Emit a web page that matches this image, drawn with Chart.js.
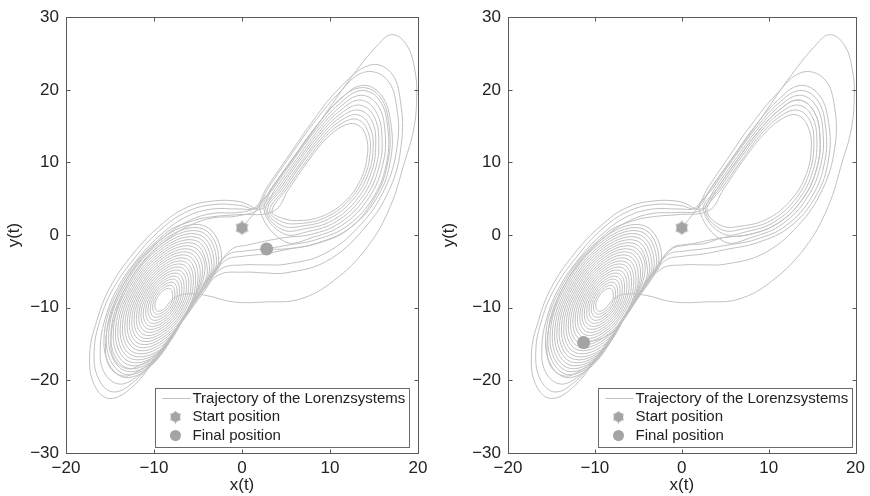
<!DOCTYPE html>
<html>
<head>
<meta charset="utf-8">
<script src="https://cdn.jsdelivr.net/npm/chart.js@4.4.1/dist/chart.umd.min.js"></script>
<style>
  html, body { margin: 0; padding: 0; background: #fff; }
  #wrap { display: flex; width: 870px; height: 496px; }
  .panel { width: 435px; height: 496px; }
</style>
</head>
<body>
<div id="wrap">
  <div class="panel"><canvas id="chartA" width="435" height="496"></canvas></div>
  <div class="panel"><canvas id="chartB" width="435" height="496"></canvas></div>
</div>
<script>
// ---- datos (x, y) ----
const xTicks = [-20, -10, 0, 10, 20];
const yTicks = [-30, -20, -10, 0, 10, 20, 30];
const legendLabels = ['Trajectory of the Lorenzsystems', 'Start position', 'Final position'];

const startPosition = [0, 1];
const finalPositionA = [2.8, -1.9];
const finalPositionB = [-11.3, -14.8];

// primer lazo grande (sale del inicio, rodea el ala derecha y entra al centro izquierdo)
const firstLoop = [
  [0,1],[1.1,2.6],[2.2,4.4],[3.6,6.8],[5.1,9.3],[7,12.5],[8.9,15.7],[10.8,19],[12.65,22.1],
  [15.3,26],[17,27.6],[18.7,26.2],[19.66,22.6],[19.85,18.9],[19.5,14.5],[18.5,10.2],[16.8,3.8],
  [14.2,-1.7],[10.4,-6.3],[6.6,-8.8],[2.8,-9.2],[-1,-9.2],[-4.1,-8.3],[-6.4,-8.1],[-7.6,-8.6]
];

// espiral del ala izquierda (de adentro hacia afuera, el lado derecho pegado al borde)
const leftSpiral = [
  [-8.20,-9.22],[-8.91,-10.22],[-9.61,-10.45],[-9.90,-9.77],[-9.60,-8.58],[-8.89,-7.58],[-8.19,-7.35],[-7.90,-8.04],
  [-8.02,-9.31],[-8.92,-10.57],[-9.80,-10.86],[-10.16,-9.99],[-9.78,-8.49],[-8.88,-7.23],[-8.00,-6.94],[-7.64,-7.81],
  [-7.83,-9.39],[-8.92,-10.92],[-9.99,-11.27],[-10.42,-10.22],[-9.97,-8.41],[-8.88,-6.88],[-7.81,-6.53],[-7.38,-7.58],
  [-7.65,-9.48],[-8.92,-11.27],[-10.18,-11.68],[-10.69,-10.45],[-10.15,-8.32],[-8.88,-6.53],[-7.62,-6.12],[-7.11,-7.35],
  [-7.47,-9.56],[-8.93,-11.62],[-10.37,-12.09],[-10.95,-10.68],[-10.34,-8.24],[-8.87,-6.18],[-7.43,-5.72],[-6.85,-7.12],
  [-7.28,-9.65],[-8.93,-11.97],[-10.56,-12.50],[-11.22,-10.91],[-10.52,-8.15],[-8.87,-5.83],[-7.24,-5.31],[-6.59,-6.89],
  [-7.10,-9.73],[-8.94,-12.32],[-10.75,-12.90],[-11.48,-11.14],[-10.70,-8.07],[-8.87,-5.48],[-7.05,-4.90],[-6.32,-6.66],
  [-6.91,-9.82],[-8.94,-12.67],[-10.94,-13.31],[-11.74,-11.37],[-10.89,-7.98],[-8.86,-5.13],[-6.86,-4.49],[-6.06,-6.43],
  [-6.73,-9.90],[-8.94,-13.02],[-11.13,-13.72],[-12.01,-11.60],[-11.07,-7.90],[-8.86,-4.78],[-6.67,-4.08],[-5.79,-6.20],
  [-6.54,-9.99],[-8.95,-13.37],[-11.32,-14.13],[-12.27,-11.83],[-11.26,-7.81],[-8.85,-4.43],[-6.49,-3.67],[-5.53,-5.97],
  [-6.36,-10.07],[-8.95,-13.72],[-11.50,-14.54],[-12.53,-12.06],[-11.44,-7.73],[-8.85,-4.08],[-6.30,-3.26],[-5.27,-5.74],
  [-6.17,-10.16],[-8.95,-14.07],[-11.69,-14.95],[-12.80,-12.29],[-11.63,-7.64],[-8.85,-3.73],[-6.11,-2.85],[-5.00,-5.52],
  [-6.11,-10.24],[-8.96,-14.42],[-11.88,-15.36],[-13.06,-12.51],[-11.81,-7.56],[-8.84,-3.38],[-5.92,-2.44],[-4.74,-5.29],
  [-6.16,-10.33],[-8.96,-14.77],[-12.07,-15.77],[-13.32,-12.74],[-12.00,-7.47],[-8.84,-3.03],[-5.73,-2.03],[-4.48,-5.06],
  [-6.22,-10.41],[-8.96,-15.12],[-12.26,-16.18],[-13.59,-12.97],[-12.18,-7.39],[-8.84,-2.68],[-5.54,-1.62],[-4.21,-4.83],
  [-6.25,-10.50],[-8.95,-15.47],[-12.45,-16.59],[-13.85,-13.20],[-12.37,-7.30],[-8.83,-2.33],[-5.35,-1.21],[-3.95,-4.60],[-4.70,-7.55],
  [-6.29,-10.58],[-9.13,-15.82],[-12.64,-17.00],[-14.12,-13.43],[-12.55,-7.22],[-8.83,-1.99],[-5.16,-0.80],[-3.69,-4.37],[-4.65,-7.48],
  [-6.34,-10.67],[-9.31,-16.17],[-12.83,-17.41],[-14.38,-13.66],[-12.73,-7.13],[-8.83,-1.64],[-4.97,-0.39],[-3.42,-4.14],[-4.60,-7.41],
  [-6.38,-10.75],[-9.50,-16.52],[-13.02,-17.82],[-14.64,-13.89],[-12.92,-7.05],[-8.82,-1.29],[-4.78,0.02],[-3.16,-3.91],[-4.55,-7.33],
  [-6.43,-10.84],[-9.69,-16.86],[-13.21,-18.23],[-14.91,-14.12],[-13.10,-6.96],[-8.82,-0.94],[-4.60,0.43],[-2.89,-3.68],[-4.50,-7.26],
  [-6.48,-10.92],[-9.88,-17.21],[-13.39,-18.64],[-15.17,-14.35],[-13.29,-6.88],[-8.81,-0.59],[-4.41,0.84],[-2.63,-3.45],[-4.47,-7.19],
  [-6.53,-11.01],[-10.07,-17.56],[-13.58,-19.05],[-15.43,-14.58],[-13.47,-6.79],[-8.81,-0.24],[-4.22,1.25],[-2.32,-3.23],[-4.43,-7.12],
  [-6.57,-11.09],[-10.25,-17.91],[-13.77,-19.46],[-15.70,-14.80],[-13.66,-6.71],[-8.81,0.11],[-5.5,2.0],[-2.8,2.6],[-0.6,2.8]
];

// vueltas del ala derecha (de la interior a la exterior)
const rightLoops = [
  [[3.6,3.3],[5.3,6.3],[7.4,10],[9.6,13.3],[11.6,15.1],[13.1,15.2],[14.1,13.6],[14.2,10.6],[13.3,7.2],[11.4,4.3],[8.9,2.5],[6.3,2.0],[4.4,2.4]],
  [[3.4,3.35],[5.05,6.3],[7.2,10.05],[9.45,13.5],[11.5,15.5],[13.15,15.9],[14.3,14.3],[14.55,11.2],[13.75,7.6],[11.9,4.45],[9.35,2.35],[6.6,1.6],[4.5,1.85]],
  [[3.15,3.4],[4.8,6.3],[6.95,10.1],[9.3,13.7],[11.45,15.95],[13.2,16.55],[14.5,15.0],[14.9,11.8],[14.2,8.0],[12.4,4.6],[9.8,2.2],[6.9,1.25],[4.55,1.3]],
  [[2.9,3.45],[4.55,6.35],[6.75,10.1],[9.1,13.85],[11.4,16.4],[13.3,17.2],[14.75,15.75],[15.2,12.45],[14.65,8.45],[12.95,4.75],[10.25,2.0],[7.25,0.9],[4.6,0.75]],
  [[2.7,3.5],[4.3,6.35],[6.5,10.15],[8.95,14.05],[11.3,16.8],[13.35,17.9],[14.95,16.45],[15.55,13.05],[15.1,8.85],[13.45,4.9],[10.7,1.85],[7.55,0.5],[4.7,0.2]],
  [[2.5,3.55],[4.05,6.35],[6.3,10.2],[8.8,14.25],[11.25,17.25],[13.4,18.6],[15.15,17.15],[15.9,13.65],[15.55,9.25],[13.95,5.05],[11.15,1.7],[7.85,0.1],[4.75,-0.35]],
  [[2.25,3.6],[3.8,6.4],[6.05,10.2],[8.6,14.4],[11.15,17.65],[13.5,19.25],[15.4,17.9],[16.25,14.3],[16.0,9.7],[14.45,5.2],[11.6,1.55],[8.2,-0.25],[4.85,-0.9]],
  [[2.0,3.65],[3.55,6.4],[5.8,10.25],[8.45,14.6],[11.05,18.05],[13.55,19.9],[15.6,18.6],[16.55,14.9],[16.45,10.1],[15.0,5.35],[12.05,1.35],[8.5,-0.6],[4.9,-1.45]],
  [[1.8,3.7],[3.3,6.4],[5.6,10.3],[8.3,14.8],[11,18.5],[13.6,20.6],[15.8,19.3],[16.9,15.5],[16.9,10.5],[15.5,5.5],[12.5,1.2],[8.8,-1.0],[5,-2.0]],
  [[1.6,3.8],[3.0,6.5],[5.2,10.4],[8,15.2],[10.9,19.4],[13.8,22.4],[16.4,21.5],[17.6,17.5],[17.6,12],[16.2,6.3],[13.3,1.2],[9.3,-2.6],[5,-4]],
  [[1.5,3.8],[2.8,6.5],[5.0,10.4],[7.8,15.3],[10.9,20],[14.5,23.4],[16.9,22.4],[18,18.5],[18.1,12.5],[16.8,6.4],[13.8,0.8],[9.6,-3.6],[5,-5.2]]
];

// vueltas exteriores del ala izquierda (entran por el borde, salen por arriba)
const leftLoops = [
  [[0.5,-1.4],[-1.1,-1.9],[-3.0,-4.6],[-5.3,-8.8],[-7.6,-13],[-9.8,-16.8],[-12.2,-20.6],[-15,-22.5],[-16.8,-20.6],[-17.3,-16.3],[-16.5,-11.8],[-15,-7.2],[-12.4,-2.6],[-9.3,1.3],[-6.3,3.8],[-3.2,4.7],[-0.2,4.6]],
  [[2.5,-1.9],[0.3,-2.2],[-1.6,-2.7],[-3.4,-5.6],[-5.5,-9.4],[-7.7,-13.4],[-9.9,-17],[-12.1,-20],[-14.6,-21.6],[-16.3,-19.8],[-16.8,-16],[-16.1,-11.6],[-14.6,-7.3],[-12.1,-3],[-9.2,0.8],[-6.3,3.2],[-3.3,4.2],[-0.3,4.1]],
  [[2.5,-2.6],[0.2,-2.9],[-1.9,-3.5],[-3.8,-6.5],[-5.9,-10.1],[-7.9,-13.8],[-9.9,-17.2],[-11.8,-19.4],[-14,-20.5],[-15.7,-18.8],[-16.1,-15.4],[-15.5,-11.3],[-14.1,-7.2],[-11.8,-3.2],[-9.0,0.3],[-6.2,2.6],[-3.3,3.6],[-0.4,3.6]],
  [[2.5,-4.1],[0.2,-4.1],[-2.3,-4.6],[-4.2,-7.3],[-6.1,-10.6],[-8,-14],[-9.9,-17],[-11.6,-18.6],[-13.5,-19.4],[-15.1,-18],[-15.5,-14.8],[-14.9,-11],[-13.6,-7.1],[-11.4,-3.3],[-8.8,-0.2],[-6,2.0],[-3.3,3.0],[-0.6,3.1]],
  [[2.5,-5.2],[0.2,-5.1],[-2.7,-5.5],[-4.5,-8.1],[-6.3,-11.1],[-8.2,-14.2],[-9.9,-16.6],[-11.4,-17.8],[-13,-18.4],[-14.5,-17.1],[-14.9,-14.2],[-14.3,-10.6],[-13.1,-7],[-11,-3.4],[-8.5,-0.6],[-5.8,1.4],[-3.2,2.4],[-0.7,2.6]]
];

// tramo final de cada simulacion
const lastLegA = [[2.1,3.7],[3.5,6.6],[5.7,10.4],[8.4,14.9],[11.1,18.7],[13.6,20.3],[15.7,19.0],[16.7,15.2],[16.6,10.2],[15.2,5.4],[12.3,1.0],[8.7,-1.1],[5,-1.9],[2.8,-1.9]];
const lastLegB = [[2.5,-1.2],[0.3,-1.3],[-1.3,-1.9],[-3.2,-5.0],[-5.2,-8.9],[-7.2,-12.4],[-8.95,-14.1],[-11.3,-14.8]];

const lineColor = '#c0c0c0';
const markerColor = '#a4a4a4';
const fontFamily = '"Liberation Sans", Arial, Helvetica, sans-serif';

function toXY(points) {
  return points.map(p => ({ x: p[0], y: p[1] }));
}

function joinPath(parts) {
  let out = [];
  parts.forEach(p => { out = out.concat(p); });
  return toXY(out);
}

const R = rightLoops, L = leftLoops;
const trajectoryA = joinPath([firstLoop, leftSpiral,
  R[0], R[1], R[2], R[3], R[4], R[5], L[0],
  R[6], R[7], L[1], R[8], L[2], R[9], L[3], R[10], L[4], lastLegA]);
const trajectoryB = joinPath([firstLoop, leftSpiral,
  R[2], R[3], R[4], R[5], L[0],
  R[6], R[7], L[1], R[8], L[2], R[9], L[3], R[5], lastLegB]);

// marcador hexagrama (estrella de seis puntas rellena)
function makeHexagram(size, color) {
  const c = document.createElement('canvas');
  c.width = size; c.height = size;
  const g = c.getContext('2d');
  const r = size / 2, cx = r, cy = r;
  g.fillStyle = color;
  [-Math.PI / 2, Math.PI / 2].forEach(start => {
    g.beginPath();
    for (let i = 0; i < 3; i++) {
      const t = start + i * 2 * Math.PI / 3;
      const px = cx + r * Math.cos(t), py = cy + r * Math.sin(t);
      if (i === 0) g.moveTo(px, py); else g.lineTo(px, py);
    }
    g.closePath();
    g.fill();
  });
  g.beginPath(); g.arc(cx, cy, r * 0.74, 0, 2 * Math.PI); g.fill();
  return c;
}
const hexMarker = makeHexagram(15, markerColor);
const hexLegend = makeHexagram(13, markerColor);

function fmtTick(v) {
  return v < 0 ? '\u2212' + Math.abs(v) : String(v);
}

// marco, marcas hacia adentro y leyenda
const framePlugin = {
  id: 'framePlugin',
  afterDraw(chart, args, opts) {
    const ctx = chart.ctx, a = chart.chartArea, sx = chart.scales.x, sy = chart.scales.y;
    ctx.save();
    ctx.strokeStyle = '#5a5a5a';
    ctx.lineWidth = 1;
    const L0 = Math.round(a.left) + 0.5, T0 = Math.round(a.top) + 0.5;
    const R0 = Math.round(a.right) + 0.5, B0 = Math.round(a.bottom) + 0.5;
    ctx.strokeRect(L0, T0, R0 - L0, B0 - T0);
    const len = 4;
    ctx.beginPath();
    xTicks.forEach(v => {
      const px = Math.round(sx.getPixelForValue(v)) + 0.5;
      ctx.moveTo(px, B0); ctx.lineTo(px, B0 - len);
      ctx.moveTo(px, T0); ctx.lineTo(px, T0 + len);
    });
    yTicks.forEach(v => {
      const py = Math.round(sy.getPixelForValue(v)) + 0.5;
      ctx.moveTo(L0, py); ctx.lineTo(L0 + len, py);
      ctx.moveTo(R0, py); ctx.lineTo(R0 - len, py);
    });
    ctx.stroke();

    // leyenda
    const w = 254, h = 59;
    const left = Math.round(a.right - opts.gapRight - w) + 0.5;
    const top = Math.round(a.bottom - 6 - h) + 0.5;
    ctx.fillStyle = '#fff';
    ctx.fillRect(left, top, w, h);
    ctx.strokeStyle = '#6a6a6a';
    ctx.strokeRect(left, top, w, h);
    const rows = [top + 10, top + 28.5, top + 47];
    ctx.strokeStyle = lineColor;
    ctx.beginPath();
    ctx.moveTo(left + 7, rows[0]); ctx.lineTo(left + 35, rows[0]);
    ctx.stroke();
    ctx.drawImage(hexLegend, left + 20 - 6.5, rows[1] - 6.5);
    ctx.fillStyle = markerColor;
    ctx.beginPath(); ctx.arc(left + 20, rows[2], 5.5, 0, 2 * Math.PI); ctx.fill();
    ctx.fillStyle = '#222';
    ctx.font = '15px ' + fontFamily;
    ctx.textBaseline = 'middle';
    ctx.textAlign = 'left';
    legendLabels.forEach((t, i) => ctx.fillText(t, left + 37, rows[i]));
    ctx.restore();
  }
};

function createChart(id, trajectory, finalPos, yAxisWidth, rightPad, legendGap) {
  const ctx = document.getElementById(id).getContext('2d');
  return new Chart(ctx, {
    type: 'scatter',
    data: {
      datasets: [
        {
          label: legendLabels[1],
          data: toXY([startPosition]),
          pointStyle: hexMarker,
          pointRadius: 7,
          order: 0
        },
        {
          label: legendLabels[2],
          data: toXY([finalPos]),
          pointStyle: 'circle',
          pointRadius: 6.5,
          pointBackgroundColor: markerColor,
          pointBorderWidth: 0,
          order: 0
        },
        {
          label: legendLabels[0],
          data: trajectory,
          showLine: true,
          borderColor: lineColor,
          borderWidth: 1,
          pointRadius: 0,
          tension: 0.4,
          order: 1
        }
      ]
    },
    options: {
      responsive: false,
      animation: false,
      events: [],
      layout: { padding: { left: 0, top: 16, right: rightPad, bottom: 0 } },
      plugins: {
        legend: { display: false },
        tooltip: { enabled: false },
        framePlugin: { gapRight: legendGap }
      },
      scales: {
        x: {
          type: 'linear',
          min: -20, max: 20,
          grid: { display: false, drawTicks: false },
          border: { display: false },
          ticks: {
            stepSize: 10,
            padding: 5,
            color: '#222',
            font: { size: 17, family: fontFamily },
            maxRotation: 0,
            callback: fmtTick
          },
          title: {
            display: true,
            text: 'x(t)',
            color: '#222',
            font: { size: 17, family: fontFamily },
            padding: { top: 0, bottom: 0 }
          },
          afterFit: s => { s.height = 43; }
        },
        y: {
          type: 'linear',
          min: -30, max: 30,
          grid: { display: false, drawTicks: false },
          border: { display: false },
          ticks: {
            stepSize: 10,
            padding: 7,
            color: '#222',
            font: { size: 17, family: fontFamily },
            callback: fmtTick
          },
          title: {
            display: true,
            text: 'y(t)',
            color: '#222',
            font: { size: 17, family: fontFamily },
            padding: { top: 4, bottom: 0 }
          },
          afterFit: s => { s.width = yAxisWidth; }
        }
      }
    },
    plugins: [framePlugin]
  });
}

createChart('chartA', trajectoryA, finalPositionA, 66, 17, 9);
createChart('chartB', trajectoryB, finalPositionB, 73, 10, 4);
</script>
</body>
</html>
